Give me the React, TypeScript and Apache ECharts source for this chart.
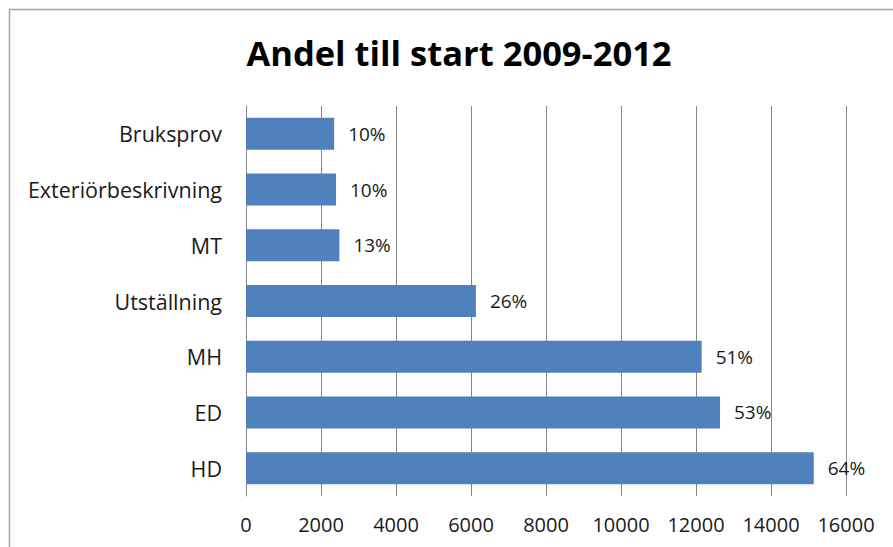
import React, { useEffect, useRef } from "react";
import * as echarts from "echarts";

const categories = ["Bruksprov", "Exteriörbeskrivning", "MT", "Utställning", "MH", "ED", "HD"];
const values = [2350, 2400, 2490, 6130, 12150, 12640, 15140];
const percentLabels = ["10%", "10%", "13%", "26%", "51%", "53%", "64%"];
const titleText = "Andel till start 2009-2012";

const FONT = "'Open Sans', Lato, sans-serif";

export default function App() {
  const ref = useRef<HTMLDivElement>(null);
  useEffect(() => {
    if (!ref.current) return;
    const chart = echarts.init(ref.current, undefined, { renderer: "svg" });
    chart.setOption({
      animation: false,
      backgroundColor: "#ffffff",
      title: {
        text: titleText,
        left: 454,
        top: 30,
        textAlign: "center",
        textStyle: { fontFamily: FONT, fontSize: 34.5, fontWeight: "bold", color: "#000000" },
      },
      graphic: [
        {
          type: "rect",
          shape: { x: 9.5, y: 9.5, width: 900, height: 600 },
          style: { fill: "none", stroke: "#a6a6a6", lineWidth: 1.5 },
          silent: true,
        },
      ],
      grid: { left: 246, right: 47, top: 106, bottom: 51, containLabel: false },
      xAxis: {
        type: "value",
        min: 0,
        max: 16000,
        interval: 2000,
        axisLine: { show: false },
        axisTick: { show: false },
        axisLabel: {
          fontFamily: FONT,
          fontSize: 20,
          color: "#1a1a1a",
          margin: 18,
          formatter: (v: number) => String(v),
        },
        splitLine: { show: true, lineStyle: { color: "#868686", width: 1 } },
      },
      yAxis: {
        type: "category",
        inverse: true,
        data: categories,
        axisLine: { show: true, lineStyle: { color: "#868686", width: 1 } },
        axisTick: { show: false },
        axisLabel: { fontFamily: FONT, fontSize: 21.5, color: "#1a1a1a", margin: 24 },
      },
      series: [
        {
          type: "bar",
          data: values,
          barWidth: 32,
          itemStyle: { color: "#4f81bd" },
          label: {
            show: true,
            position: "right",
            distance: 14,
            fontFamily: FONT,
            fontSize: 19,
            color: "#1a1a1a",
            formatter: (p: any) => percentLabels[p.dataIndex],
          },
        },
      ],
    });
    return () => chart.dispose();
  }, []);
  return (
    <div
      ref={ref}
      style={{ position: "fixed", left: 0, top: 0, width: 893, height: 547 }}
    />
  );
}
